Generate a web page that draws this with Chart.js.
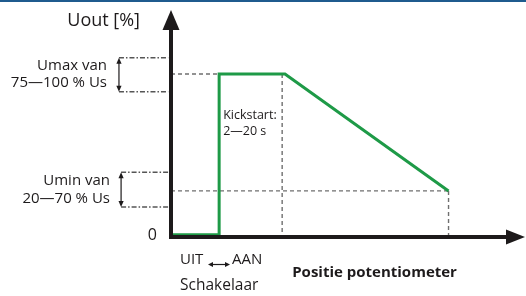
<!DOCTYPE html>
<html>
<head>
<meta charset="utf-8">
<script src="https://cdn.jsdelivr.net/npm/chart.js@4/dist/chart.umd.min.js"></script>
<style>
  html, body { margin: 0; padding: 0; background: #fff; }
  #wrap { position: relative; width: 526px; height: 296px; }
</style>
</head>
<body>
<div id="wrap"><canvas id="c" width="526" height="296"></canvas></div>
<script>
// waarden (abstracte eenheden 0..100)
const positie = [0, 13.6, 13.6, 32.2, 78.4];
const uout = [1, 1, 71.8, 71.8, 20.3];
const kickstartEind = 31.4;
const umaxBand = [64, 79];
const uminBand = [13.2, 28.5];
const bandLinks = [-14.7, -14.1];

const FONT = '"Open Sans", "DejaVu Sans", sans-serif';
const INK = '#1d1a1b';
const GREEN = '#1e9a47';
const GUIDE = '#6f6f6f';

// hulplijnen (gestreept)
const guideData = [
  { x: 0, y: uout[2] }, { x: positie[2], y: uout[2] }, { x: null, y: null },
  { x: kickstartEind, y: uout[3] }, { x: kickstartEind, y: 0 }, { x: null, y: null },
  { x: 0, y: uout[4] }, { x: positie[4], y: uout[4] }, { x: null, y: null },
  { x: positie[4], y: uout[4] }, { x: positie[4], y: 0 }
];
const bandData = [
  { x: bandLinks[0], y: umaxBand[1] }, { x: -0.8, y: umaxBand[1] }, { x: null, y: null },
  { x: bandLinks[0], y: umaxBand[0] }, { x: -0.8, y: umaxBand[0] }, { x: null, y: null },
  { x: bandLinks[1], y: uminBand[1] }, { x: -0.4, y: uminBand[1] }, { x: null, y: null },
  { x: bandLinks[1], y: uminBand[0] }, { x: -0.4, y: uminBand[0] }
];

function arrowHead(ctx, tx, ty, dx, dy, len, half) {
  // punt op (tx,ty), richting (dx,dy)
  const bx = tx - dx * len, by = ty - dy * len;
  ctx.beginPath();
  ctx.moveTo(tx, ty);
  ctx.lineTo(bx - dy * half, by + dx * half);
  ctx.lineTo(bx + dy * half, by - dx * half);
  ctx.closePath();
  ctx.fill();
}

function doubleArrowV(ctx, x, y1, y2) {
  ctx.save();
  ctx.strokeStyle = INK; ctx.fillStyle = INK; ctx.lineWidth = 1.2;
  ctx.beginPath(); ctx.moveTo(x, y1 + 3); ctx.lineTo(x, y2 - 3); ctx.stroke();
  arrowHead(ctx, x, y1, 0, -1, 6, 2.6);
  arrowHead(ctx, x, y2, 0, 1, 6, 2.6);
  ctx.restore();
}

const diagramPlugin = {
  id: 'diagram',
  beforeDraw(chart) {
    const ctx = chart.ctx;
    ctx.save();
    ctx.fillStyle = '#fff';
    ctx.fillRect(0, 0, chart.width, chart.height);
    ctx.fillStyle = '#1f5b8e';
    ctx.fillRect(0, 0, chart.width, 2);
    ctx.restore();
  },
  afterDatasetsDraw(chart) {
    const ctx = chart.ctx;
    const xs = chart.scales.x, ys = chart.scales.y;
    const ox = xs.getPixelForValue(0), oy = ys.getPixelForValue(0);
    const top = ys.getPixelForValue(100), right = xs.getPixelForValue(100);

    ctx.save();
    // assen
    ctx.strokeStyle = INK; ctx.fillStyle = INK; ctx.lineWidth = 4;
    ctx.beginPath();
    ctx.moveTo(ox, oy + 2); ctx.lineTo(ox, top + 18);
    ctx.moveTo(ox - 2, oy); ctx.lineTo(right - 17, oy);
    ctx.stroke();
    arrowHead(ctx, ox, top, 0, -1, 20, 8.5);
    arrowHead(ctx, right, oy, 1, 0, 19, 7.5);

    // band-pijlen
    doubleArrowV(ctx, xs.getPixelForValue(bandLinks[0]), ys.getPixelForValue(umaxBand[1]), ys.getPixelForValue(umaxBand[0]));
    doubleArrowV(ctx, xs.getPixelForValue(bandLinks[1]), ys.getPixelForValue(uminBand[1]), ys.getPixelForValue(uminBand[0]));

    // teksten
    ctx.fillStyle = INK;
    ctx.textBaseline = 'middle';
    ctx.textAlign = 'right';
    ctx.font = '18px ' + FONT;
    ctx.fillText('Uout [%]', ox - 31, top + 11);

    ctx.font = '15px ' + FONT;
    const umaxMid = (ys.getPixelForValue(umaxBand[0]) + ys.getPixelForValue(umaxBand[1])) / 2;
    ctx.fillText('Umax van', ox - 64, umaxMid - 8.5);
    ctx.fillText('75\u2014100 % Us', ox - 64, umaxMid + 8.5);
    const uminMid = (ys.getPixelForValue(uminBand[0]) + ys.getPixelForValue(uminBand[1])) / 2;
    ctx.fillText('Umin van', ox - 61, uminMid - 8.5);
    ctx.fillText('20\u201470 % Us', ox - 61, uminMid + 8.8);

    ctx.font = '16px ' + FONT;
    ctx.fillText('0', ox - 14, oy - 2);

    ctx.textAlign = 'left';
    ctx.font = '15px ' + FONT;
    ctx.fillText('UIT', ox + 9, oy + 23);
    ctx.fillText('AAN', ox + 61, oy + 23);
    ctx.font = '15.5px ' + FONT;
    ctx.fillText('Schakelaar', ox + 9, oy + 49);
    // UIT <-> AAN pijltje
    ctx.lineWidth = 1.2;
    ctx.beginPath(); ctx.moveTo(ox + 40, oy + 27.5); ctx.lineTo(ox + 56, oy + 27.5); ctx.stroke();
    arrowHead(ctx, ox + 37, oy + 27.5, -1, 0, 5, 2.4);
    arrowHead(ctx, ox + 59, oy + 27.5, 1, 0, 5, 2.4);

    ctx.textAlign = 'center';
    ctx.font = 'bold 15px ' + FONT;
    ctx.fillText('Positie potentiometer', xs.getPixelForValue(57.5), oy + 36);

    ctx.textAlign = 'left';
    ctx.font = '12.5px ' + FONT;
    const kx = xs.getPixelForValue(positie[1]) + 4;
    ctx.fillText('Kickstart:', kx, ys.getPixelForValue(53.6));
    ctx.fillText('2\u201420 s', kx, ys.getPixelForValue(46.5));
    ctx.restore();
  }
};

new Chart(document.getElementById('c'), {
  type: 'line',
  data: {
    datasets: [
      {
        label: 'Uout',
        data: positie.map((p, i) => ({ x: p, y: uout[i] })),
        borderColor: GREEN,
        borderWidth: 3,
        pointRadius: 0,
        tension: 0,
        borderJoinStyle: 'miter',
        clip: false
      },
      {
        label: 'hulplijnen',
        data: guideData,
        borderColor: GUIDE,
        borderWidth: 1.4,
        borderDash: [4, 3],
        pointRadius: 0,
        spanGaps: false,
        clip: false
      },
      {
        label: 'banden',
        data: bandData,
        borderColor: '#555',
        borderWidth: 1.5,
        borderDash: [5, 2, 1.5, 2],
        pointRadius: 0,
        spanGaps: false,
        clip: false
      }
    ]
  },
  options: {
    responsive: false,
    animation: false,
    layout: { padding: { left: 171, right: 1, top: 10, bottom: 59 } },
    plugins: { legend: { display: false }, tooltip: { enabled: false } },
    scales: {
      x: { type: 'linear', min: 0, max: 100, display: false },
      y: { type: 'linear', min: 0, max: 100, display: false }
    }
  },
  plugins: [diagramPlugin]
});
</script>
</body>
</html>
